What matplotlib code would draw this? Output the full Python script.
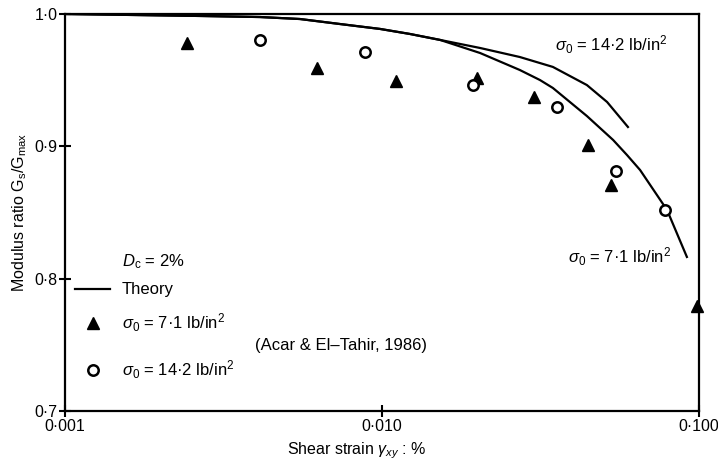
import matplotlib
matplotlib.use("Agg")
import matplotlib.pyplot as plt

plt.rcParams['font.family'] = ['Liberation Sans', 'DejaVu Sans']
plt.rcParams['mathtext.fontset'] = 'custom'
plt.rcParams['mathtext.rm'] = 'Liberation Sans'
plt.rcParams['mathtext.it'] = 'Liberation Sans:italic'
plt.rcParams['mathtext.bf'] = 'Liberation Sans:bold'

# test data (Acar & El-Tahir, 1986)
strain_tri = [0.00243, 0.00622, 0.0111, 0.0200, 0.0301, 0.0445, 0.0526, 0.0985]
ratio_tri = [0.978, 0.959, 0.949, 0.952, 0.9375, 0.901, 0.871, 0.779]

strain_circ = [0.00412, 0.00883, 0.0194, 0.0357, 0.0546, 0.0782]
ratio_circ = [0.980, 0.9715, 0.946, 0.930, 0.881, 0.852]

# theory curves
strain_th71 = [0.001, 0.00267, 0.00412, 0.00551, 0.00738, 0.00986, 0.01225, 0.01525, 0.0204,
               0.0272, 0.0315, 0.0346, 0.0443, 0.0536, 0.0593, 0.0652, 0.0793, 0.0916]
ratio_th71 = [1.0, 0.9985, 0.9977, 0.9962, 0.9924, 0.9887, 0.9849, 0.9804, 0.9705,
              0.9577, 0.9501, 0.9441, 0.9229, 0.9048, 0.8934, 0.8821, 0.8519, 0.8164]

strain_th142 = [0.001, 0.00267, 0.00412, 0.00551, 0.00738, 0.00986, 0.01225, 0.01525, 0.0204,
                0.0272, 0.0346, 0.0443, 0.0513, 0.0597]
ratio_th142 = [1.0, 0.9985, 0.9977, 0.9962, 0.9924, 0.9887, 0.9849, 0.9804, 0.9743,
               0.9675, 0.960, 0.9463, 0.9335, 0.9146]

xticks = [0.001, 0.010, 0.100]
xtick_labels = ['0·001', '0·010', '0·100']
yticks = [0.7, 0.8, 0.9, 1.0]
ytick_labels = ['0·7', '0·8', '0·9', '1·0']

fig = plt.figure(figsize=(7.18, 4.63), dpi=100)
ax = fig.add_axes([0.0905, 0.1123, 0.883, 0.8575])

ax.plot(strain_th71, ratio_th71, color='black', lw=1.6)
ax.plot(strain_th142, ratio_th142, color='black', lw=1.6)
ax.plot(strain_tri, ratio_tri, linestyle='none', marker='^', ms=9, color='black', clip_on=False)
ax.plot(strain_circ, ratio_circ, linestyle='none', marker='o', ms=7.5, mfc='white',
        mec='black', mew=1.8, clip_on=False)

ax.set_xscale('log')
ax.set_xlim(0.001, 0.100)
ax.set_ylim(0.7, 1.0)
ax.set_xticks(xticks)
ax.set_xticklabels(xtick_labels)
ax.minorticks_off()
ax.set_yticks(yticks)
ax.set_yticklabels(ytick_labels)
ax.tick_params(direction='inout', length=9, width=1.5, labelsize=11.5, pad=1)
for s in ax.spines.values():
    s.set_linewidth(1.6)

ax.set_xlabel(r'Shear strain $\gamma_{xy}$ : %', fontsize=11.5)
ax.xaxis.set_label_coords(0.46, -0.075)
ax.set_ylabel(r'Modulus ratio G$_\mathrm{s}$/G$_\mathrm{max}$', fontsize=11.5, labelpad=4)

# curve labels
ax.text(0.0351, 0.9766, r'$\sigma_0$ = 14·2 lb/in$^2$', fontsize=12, va='center')
ax.text(0.0386, 0.8164, r'$\sigma_0$ = 7·1 lb/in$^2$', fontsize=12, va='center')

# key
tr = ax.transAxes
ax.text(0.09, 0.375, r'$D_\mathrm{c}$ = 2%', transform=tr, fontsize=12, va='center')
ax.plot([0.016, 0.071], [0.307, 0.307], transform=tr, color='black', lw=1.6)
ax.text(0.09, 0.307, 'Theory', transform=tr, fontsize=12, va='center')
ax.plot([0.044], [0.222], transform=tr, marker='^', ms=9, color='black', linestyle='none')
ax.text(0.09, 0.222, r'$\sigma_0$ = 7·1 lb/in$^2$', transform=tr, fontsize=12, va='center')
ax.plot([0.044], [0.103], transform=tr, marker='o', ms=7.5, mfc='white', mec='black',
        mew=1.8, linestyle='none')
ax.text(0.09, 0.103, r'$\sigma_0$ = 14·2 lb/in$^2$', transform=tr, fontsize=12, va='center')
ax.text(0.30, 0.164, '(Acar & El–Tahir, 1986)', transform=tr, fontsize=12, va='center')

fig.savefig('out.png', dpi=100)
